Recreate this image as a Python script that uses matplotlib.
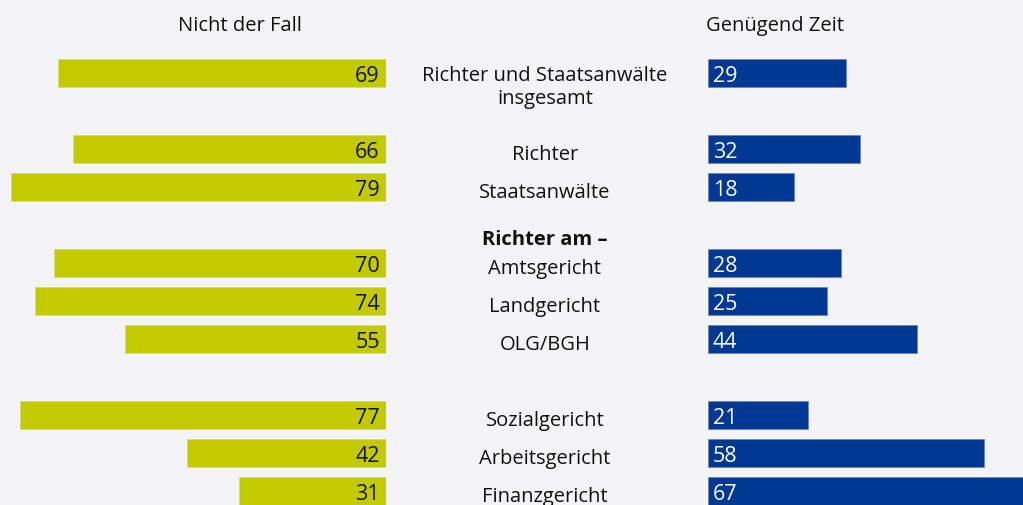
import matplotlib
matplotlib.use("Agg")
import matplotlib.pyplot as plt
import matplotlib.transforms as mtransforms

plt.rcParams['font.family'] = ['Open Sans', 'DejaVu Sans']

categories = ["Richter und Staatsanwälte\ninsgesamt", "Richter", "Staatsanwälte",
              "Amtsgericht", "Landgericht", "OLG/BGH",
              "Sozialgericht", "Arbeitsgericht", "Finanzgericht"]
nicht_der_fall = [69, 66, 79, 70, 74, 55, 77, 42, 31]
genuegend_zeit = [29, 32, 18, 28, 25, 44, 21, 58, 67]
header_left = "Nicht der Fall"
header_right = "Genügend Zeit"
group_header = "Richter am –"

# layout (row slots)
slots = [0, 2, 3, 5, 6, 7, 9, 10, 11]
label_offsets = [0.36, 0.12, 0.12, 0.12, 0.12, 0.12, 0.12, 0.12, 0.12]
group_slot = 4.37
header_slot = -1.27

BG = "#f4f4f7"
GREEN = "#c3cb00"
BLUE = "#003893"

W, H = 1023, 506
fig = plt.figure(figsize=(W / 100, H / 100), dpi=100, facecolor=BG)

px_per_unit = 4.75
ylim = (11 + (H - 492) / 38, -74 / 38)

axL = fig.add_axes([0, 0, 386 / W, 1])
axR = fig.add_axes([708 / W, 0, (W - 708) / W, 1])
for ax in (axL, axR):
    ax.set_facecolor("none")
    ax.axis("off")
    ax.set_ylim(*ylim)

axL.set_xlim(386 / px_per_unit, 0)
axR.set_xlim(0, (W - 708) / px_per_unit)

bh = 28 / 38
axL.barh(slots, nicht_der_fall, height=bh, color=GREEN, edgecolor="#d9de70", linewidth=0.6)
axR.barh(slots, genuegend_zeit, height=bh, color=BLUE, edgecolor="#6f86bd", linewidth=0.6)

for s, v in zip(slots, nicht_der_fall):
    axL.annotate(str(v), xy=(0, s), xytext=(-4.5, -1.5), textcoords="offset points",
                 ha="right", va="center", fontsize=15.5, color="#111111")
for s, v in zip(slots, genuegend_zeit):
    axR.annotate(str(v), xy=(0, s), xytext=(3.5, -1.5), textcoords="offset points",
                 ha="left", va="center", fontsize=15.5, color="white")

trans = mtransforms.blended_transform_factory(fig.transFigure, axL.transData)
cx = 545 / W
for s, off, lab in zip(slots, label_offsets, categories):
    fig.text(cx, s + off, lab, transform=trans, ha="center", va="center",
             fontsize=14.5, color="#111111", linespacing=1.2)
fig.text(cx, group_slot, group_header, transform=trans, ha="center", va="center",
         fontsize=14.5, fontweight="bold", color="#111111")

fig.text(240 / W, header_slot, header_left, transform=trans, ha="center", va="center",
         fontsize=14.5, color="#111111")
fig.text(775 / W, header_slot, header_right, transform=trans, ha="center", va="center",
         fontsize=14.5, color="#111111")

fig.savefig("out.png", dpi=100, facecolor=BG)
